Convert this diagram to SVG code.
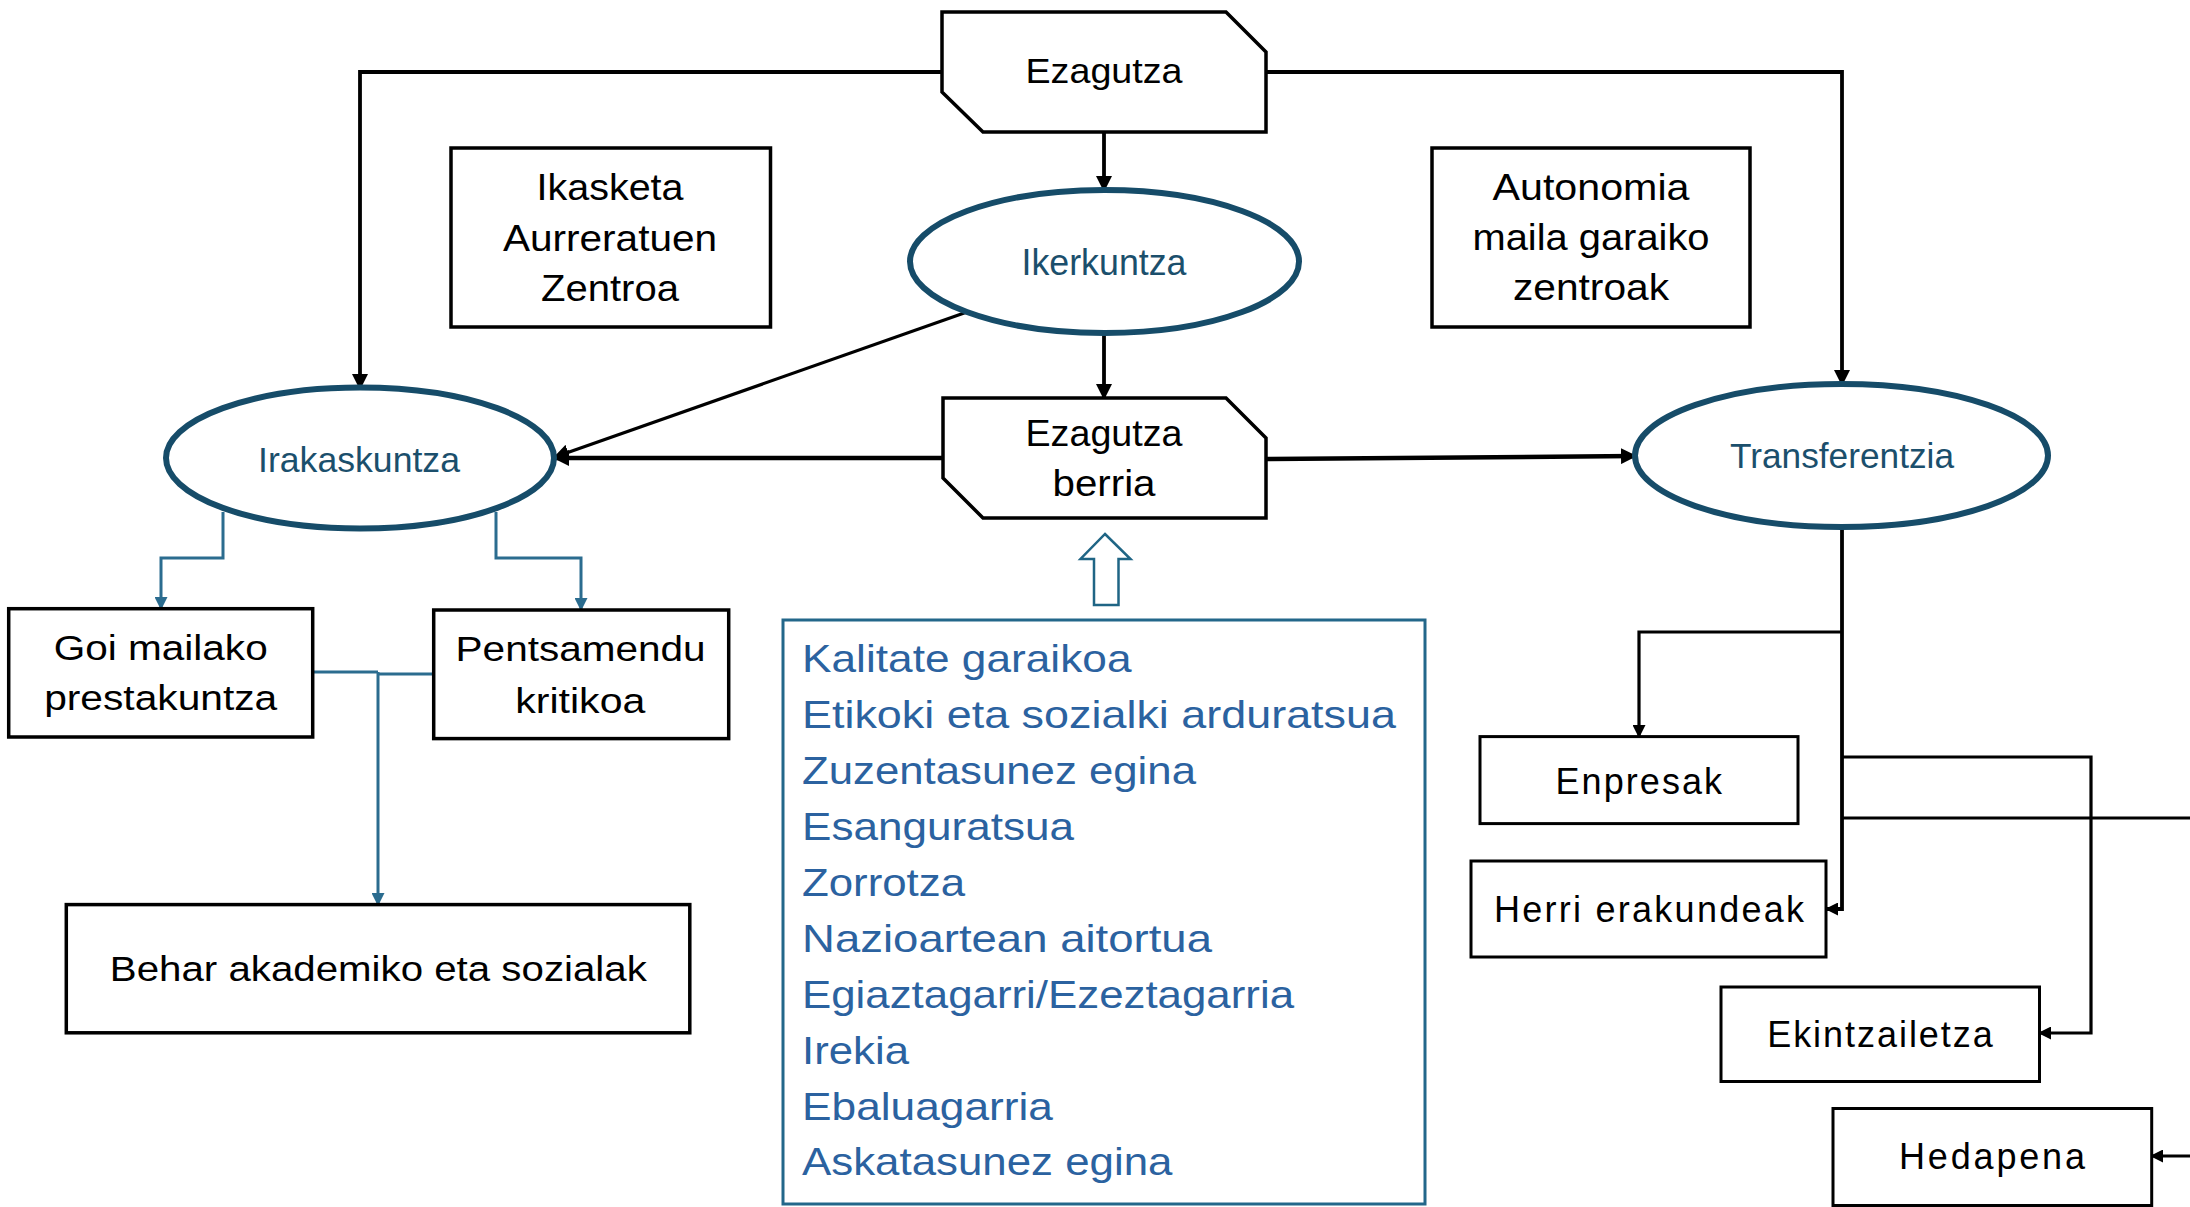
<svg xmlns="http://www.w3.org/2000/svg" width="2190" height="1207" viewBox="0 0 2190 1207">
<style>
.bg{fill:#fff}
.box{fill:#fff;stroke:#000;stroke-width:3.5}
.box2{fill:#fff;stroke:#000;stroke-width:3}
.ell{fill:#fff;stroke:#164c69;stroke-width:6}
.t{font-family:"Liberation Sans",Arial,sans-serif;fill:#000;text-anchor:middle}
.te{fill:#1b4f6c}
.tl{font-family:"Liberation Sans",Arial,sans-serif;fill:#2b62a0;text-anchor:start;font-size:39px}
.c{fill:none;stroke:#000;stroke-width:3.8}
.c2{fill:none;stroke:#000;stroke-width:3.2}
.ck{fill:none;stroke:#000;stroke-width:4.5}
.cb{fill:none;stroke:#2b6c8f;stroke-width:3}
</style>
<defs>
<marker id="ah" markerUnits="userSpaceOnUse" markerWidth="16" markerHeight="16" viewBox="0 0 16 16" refX="14" refY="8" orient="auto"><path d="M0,0 L16,8 L0,16 z" fill="#000"/></marker>
<marker id="ahs" markerUnits="userSpaceOnUse" markerWidth="13" markerHeight="13" viewBox="0 0 13 13" refX="11" refY="6.5" orient="auto"><path d="M0,0 L13,6.5 L0,13 z" fill="#000"/></marker>
<marker id="ahb" markerUnits="userSpaceOnUse" markerWidth="13" markerHeight="13" viewBox="0 0 13 13" refX="11" refY="6.5" orient="auto"><path d="M0,0 L13,6.5 L0,13 z" fill="#2b6c8f"/></marker>
</defs>
<rect class="bg" x="0" y="0" width="2190" height="1207"/>

<g id="connectors">
<path class="c" d="M942,72 H360 V388" marker-end="url(#ah)"/>
<path class="c" d="M1266,72 H1842 V384" marker-end="url(#ah)"/>
<path class="c" d="M1104,132 V190" marker-end="url(#ah)"/>
<path class="c" d="M1104,333 V398" marker-end="url(#ah)"/>
<path class="c2" d="M967,312 L555,457" marker-end="url(#ah)"/>
<path class="ck" d="M943,458 H555" marker-end="url(#ah)"/>
<path class="ck" d="M1266,459 L1635,456" marker-end="url(#ah)"/>
<path class="c" d="M1842,528 V909 H1827" marker-end="url(#ahs)"/>
<path class="c2" d="M1842,632 H1639 V736" marker-end="url(#ahs)"/>
<path class="c2" d="M1842,757 H2091 V1033 H2040" marker-end="url(#ahs)"/>
<path class="c2" d="M1842,818 H2195"/>
<path class="c2" d="M2195,1156 H2152" marker-end="url(#ahs)"/>
<path class="cb" d="M223,512 V558 H161 V608" marker-end="url(#ahb)"/>
<path class="cb" d="M496,512 V558 H581 V609" marker-end="url(#ahb)"/>
<path class="cb" d="M313,672 H378"/>
<path class="cb" d="M434,674 H378"/>
<path class="cb" d="M378,672 V904" marker-end="url(#ahb)"/>
<polygon points="1105,534 1130.5,559 1118.5,559 1118.5,605 1094,605 1094,559 1080.5,559" fill="#fff" stroke="#1f6585" stroke-width="2.5"/>
</g>

<g id="ezagutza">
<polygon class="box" points="942,12 1226,12 1266,52 1266,132 983,132 942,92"/>
<text class="t" x="1104" y="83" font-size="35" textLength="157" lengthAdjust="spacingAndGlyphs">Ezagutza</text>
</g>

<g id="ikerkuntza">
<ellipse class="ell" cx="1104.5" cy="261.5" rx="194.5" ry="71.5"/>
<text class="t te" x="1104" y="275" font-size="36" textLength="165" lengthAdjust="spacingAndGlyphs">Ikerkuntza</text>
</g>

<g id="ikasketa">
<rect class="box" x="451" y="148" width="319.5" height="179"/>
<text class="t" x="610" y="200" font-size="37.5" textLength="147" lengthAdjust="spacingAndGlyphs">Ikasketa</text>
<text class="t" x="610" y="251" font-size="37.5" textLength="214" lengthAdjust="spacingAndGlyphs">Aurreratuen</text>
<text class="t" x="610" y="301" font-size="37.5" textLength="138" lengthAdjust="spacingAndGlyphs">Zentroa</text>
</g>

<g id="autonomia">
<rect class="box" x="1432" y="148" width="318" height="179"/>
<text class="t" x="1591" y="200" font-size="37" textLength="197" lengthAdjust="spacingAndGlyphs">Autonomia</text>
<text class="t" x="1591" y="250" font-size="37" textLength="237" lengthAdjust="spacingAndGlyphs">maila garaiko</text>
<text class="t" x="1591" y="300" font-size="37" textLength="156" lengthAdjust="spacingAndGlyphs">zentroak</text>
</g>

<g id="irakaskuntza">
<ellipse class="ell" cx="360" cy="458" rx="194" ry="70.5"/>
<text class="t te" x="359" y="472" font-size="35" textLength="202" lengthAdjust="spacingAndGlyphs">Irakaskuntza</text>
</g>

<g id="ezagutza-berria">
<polygon class="box" points="943,398 1226,398 1266,438 1266,518 983,518 943,478"/>
<text class="t" x="1104" y="446" font-size="36.5" textLength="157" lengthAdjust="spacingAndGlyphs">Ezagutza</text>
<text class="t" x="1104" y="496" font-size="36.5" textLength="103" lengthAdjust="spacingAndGlyphs">berria</text>
</g>

<g id="transferentzia">
<ellipse class="ell" cx="1841.5" cy="455.5" rx="206.5" ry="71.5"/>
<text class="t te" x="1842" y="468" font-size="35" textLength="224" lengthAdjust="spacingAndGlyphs">Transferentzia</text>
</g>

<g id="goi-mailako">
<rect class="box" x="8.7" y="608.7" width="304" height="128.3"/>
<text class="t" x="160.7" y="660" font-size="35.5" textLength="214" lengthAdjust="spacingAndGlyphs">Goi mailako</text>
<text class="t" x="160.7" y="710.4" font-size="35.5" textLength="233" lengthAdjust="spacingAndGlyphs">prestakuntza</text>
</g>

<g id="pentsamendu">
<rect class="box" x="433.7" y="610" width="295" height="128.6"/>
<text class="t" x="580.6" y="661" font-size="35.5" textLength="250" lengthAdjust="spacingAndGlyphs">Pentsamendu</text>
<text class="t" x="580.3" y="712.7" font-size="35.5" textLength="130" lengthAdjust="spacingAndGlyphs">kritikoa</text>
</g>

<g id="behar">
<rect class="box" x="66.3" y="904.6" width="623.5" height="128.2"/>
<text class="t" x="378.3" y="981.4" font-size="35.5" textLength="537" lengthAdjust="spacingAndGlyphs">Behar akademiko eta sozialak</text>
</g>

<g id="ezaugarriak">
<rect x="783" y="620" width="642" height="584" fill="#fff" stroke="#23678a" stroke-width="3"/>
<text class="tl" x="802" y="672" textLength="329.5" lengthAdjust="spacingAndGlyphs">Kalitate garaikoa</text>
<text class="tl" x="802" y="728" textLength="594" lengthAdjust="spacingAndGlyphs">Etikoki eta sozialki arduratsua</text>
<text class="tl" x="802" y="784" textLength="394" lengthAdjust="spacingAndGlyphs">Zuzentasunez egina</text>
<text class="tl" x="802" y="840" textLength="272" lengthAdjust="spacingAndGlyphs">Esanguratsua</text>
<text class="tl" x="802" y="896" textLength="163" lengthAdjust="spacingAndGlyphs">Zorrotza</text>
<text class="tl" x="802" y="952" textLength="410" lengthAdjust="spacingAndGlyphs">Nazioartean aitortua</text>
<text class="tl" x="802" y="1008" textLength="492" lengthAdjust="spacingAndGlyphs">Egiaztagarri/Ezeztagarria</text>
<text class="tl" x="802" y="1064" textLength="107" lengthAdjust="spacingAndGlyphs">Irekia</text>
<text class="tl" x="802" y="1120" textLength="251" lengthAdjust="spacingAndGlyphs">Ebaluagarria</text>
<text class="tl" x="802" y="1175" textLength="370.5" lengthAdjust="spacingAndGlyphs">Askatasunez egina</text>
</g>

<g id="enpresak">
<rect class="box2" x="1480" y="736.6" width="318" height="87"/>
<text class="t" x="1638.8" y="794" font-size="36" textLength="166.6" lengthAdjust="spacing">Enpresak</text>
</g>

<g id="herri-erakundeak">
<rect class="box2" x="1471" y="861" width="355" height="96"/>
<text class="t" x="1649" y="922" font-size="36" textLength="310" lengthAdjust="spacing">Herri erakundeak</text>
</g>

<g id="ekintzailetza">
<rect class="box2" x="1721" y="987" width="318.5" height="94.5"/>
<text class="t" x="1880" y="1047" font-size="36" textLength="225.6" lengthAdjust="spacing">Ekintzailetza</text>
</g>

<g id="hedapena">
<rect class="box2" x="1833" y="1108.5" width="318.7" height="97"/>
<text class="t" x="1992" y="1169" font-size="36" textLength="186" lengthAdjust="spacing">Hedapena</text>
</g>
</svg>
